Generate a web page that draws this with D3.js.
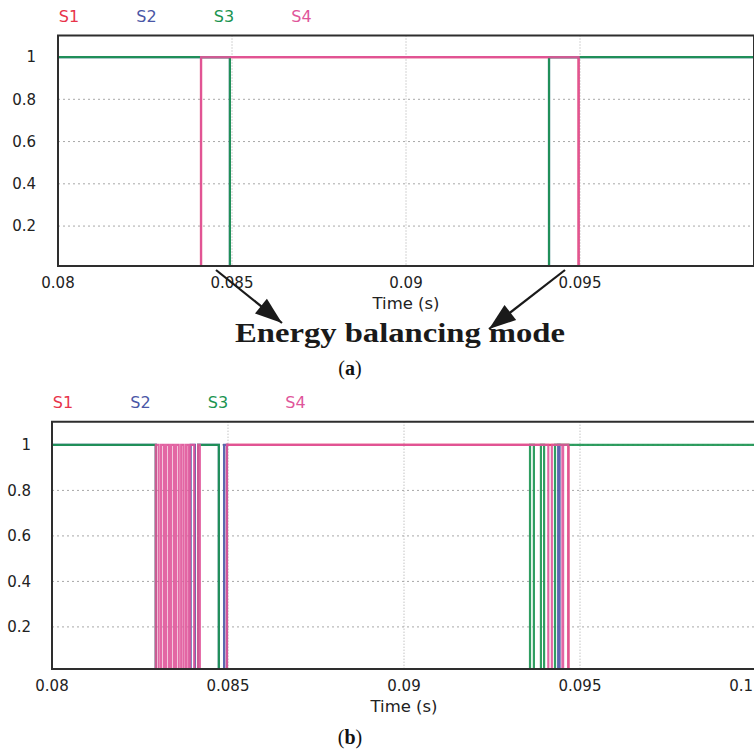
<!DOCTYPE html>
<html><head><meta charset="utf-8">
<script src="https://cdn.jsdelivr.net/npm/d3@7"></script>
<style>body{margin:0;background:#fff}svg{display:block}</style>
</head><body>
<script>
// ---------------- data ----------------
const seriesNames = ["S1", "S2", "S3", "S4"];
const seriesColors = ["#e8344a", "#4a56a6", "#1a9450", "#e0559a"];
const xTicks = [0.08, 0.085, 0.09, 0.095, 0.1];
const xTickLabelsA = ["0.08", "0.085", "0.09", "0.095", ""];
const xTickLabelsB = ["0.08", "0.085", "0.09", "0.095", "0.1"];
const yTicks = [0.2, 0.4, 0.6, 0.8, 1];
const yTickLabels = ["0.2", "0.4", "0.6", "0.8", "1"];
const xGrid = [0.085, 0.09, 0.095];

// panel (a): [time (s), switch state]
const a_S1 = [[0.08, 0], [0.08411, 1], [0.09496, 0], [0.1, 0]];
const a_S2 = [[0.08, 1], [0.08494, 0], [0.09411, 1], [0.1, 1]];
const a_S3 = [[0.08, 1], [0.08494, 0], [0.09411, 1], [0.1, 1]];
const a_S4 = [[0.08, 0], [0.08411, 1], [0.09496, 0], [0.1, 0]];

// panel (b)
const b_S1 = [[0.08, 0], [0.08497, 1], [0.09467, 0], [0.1, 0]];
const b_S2 = [[0.08, 1], [0.08295, 0], [0.08394, 1], [0.08406, 0], [0.08415, 1], [0.08474, 0],
              [0.08489, 1], [0.08497, 0], [0.09438, 1], [0.09442, 0], [0.1, 0]];
const b_S3 = [[0.08, 1], [0.08295, 0], [0.08415, 1], [0.08474, 0], [0.09358, 1], [0.09369, 0],
              [0.09389, 1], [0.09398, 0], [0.09429, 1], [0.1, 1]];
const b_S4 = [[0.08, 0], [0.08295, 1], [0.08303, 0], [0.08310, 1], [0.08318, 0], [0.08324, 1],
              [0.08332, 0], [0.08338, 1], [0.08346, 0], [0.08352, 1], [0.08360, 0], [0.08367, 1],
              [0.08374, 0], [0.08381, 1], [0.08388, 0], [0.08392, 1], [0.08404, 0], [0.08415, 1],
              [0.08420, 0], [0.08497, 1], [0.09410, 0], [0.09420, 1], [0.09450, 0], [0.09452, 1],
              [0.09467, 0], [0.1, 0]];

// annotation arrows (panel a): start time on the axis
const arrowTimes = [0.08454, 0.09457];

// ---------------- layout ----------------
const W = 754, H = 752;
const svg = d3.select("body").append("svg").attr("width", W).attr("height", H);
const defs = svg.append("defs");

const panels = [
  { id: "a", left: 58, right: 754, top: 35.5, bottom: 266, yMin: 0.011, yMax: 1.102,
    series: [a_S1, a_S2, a_S3, a_S4], xLabels: xTickLabelsA, caption: "a", capY: 368, yLabelOff: 22 },
  { id: "b", left: 52, right: 756, top: 421.7, bottom: 669, yMin: 0.015, yMax: 1.102,
    series: [b_S1, b_S2, b_S3, b_S4], xLabels: xTickLabelsB, caption: "b", capY: 737, yLabelOff: 21 }
];

const sans = "'DejaVu Sans', Arial, sans-serif";
const serif = "'Liberation Serif', 'Times New Roman', serif";

panels.forEach(p => {
  const x = d3.scaleLinear().domain([0.08, 0.1]).range([p.left, p.right]);
  const y = d3.scaleLinear().domain([p.yMin, p.yMax]).range([p.bottom, p.top]);
  p.x = x; p.y = y;
  const g = svg.append("g");

  defs.append("clipPath").attr("id", "clip-" + p.id)
    .append("rect").attr("x", p.left).attr("y", p.top)
    .attr("width", p.right - p.left).attr("height", p.bottom - p.top);

  // grid
  g.selectAll(".hg").data(yTicks).join("line")
    .attr("x1", p.left).attr("x2", p.right)
    .attr("y1", d => y(d)).attr("y2", d => y(d))
    .attr("stroke", "#a8a8a8").attr("stroke-width", 1).attr("stroke-dasharray", "2,3");
  g.selectAll(".vg").data(xGrid).join("line")
    .attr("x1", d => x(d)).attr("x2", d => x(d))
    .attr("y1", p.top).attr("y2", p.bottom)
    .attr("stroke", "#a8a8a8").attr("stroke-width", 1).attr("stroke-dasharray", "1,2");

  // signals
  const line = d3.line().x(d => x(d[0])).y(d => y(d[1])).curve(d3.curveStepAfter);
  const sg = g.append("g").attr("clip-path", `url(#clip-${p.id})`);
  p.series.forEach((s, i) => {
    sg.append("path").datum(s).attr("d", line)
      .attr("fill", "none").attr("stroke", seriesColors[i])
      .attr("stroke-width", 2.2).attr("stroke-opacity", 0.9);
  });

  // frame
  g.append("path")
    .attr("d", `M${x(0.1)},${p.top}H${p.left}V${p.bottom}H${x(0.1)}` + (x(0.1) <= W ? `V${p.top}` : ""))
    .attr("fill", "none").attr("stroke", "#2e2e2e").attr("stroke-width", 2);

  // y tick labels
  g.selectAll(".yl").data(yTicks).join("text")
    .attr("x", p.left - p.yLabelOff).attr("y", d => y(d)).attr("dy", "0.36em")
    .attr("text-anchor", "end").attr("font-family", sans).attr("font-size", 15)
    .attr("fill", "#222").text((d, i) => yTickLabels[i]);

  // x tick labels (keep the last one inside the page)
  g.selectAll(".xl").data(xTicks).join("text")
    .attr("x", d => Math.min(x(d), W - 1))
    .attr("y", p.bottom + 17).attr("dy", "0.36em")
    .attr("text-anchor", d => x(d) > W - 12 ? "end" : "middle")
    .attr("font-family", sans).attr("font-size", 15)
    .attr("fill", "#222").text((d, i) => p.xLabels[i]);

  // axis title
  g.append("text").attr("x", x(0.09)).attr("y", p.bottom + 38).attr("dy", "0.36em")
    .attr("text-anchor", "middle").attr("font-family", sans).attr("font-size", 15)
    .attr("textLength", 67).attr("lengthAdjust", "spacingAndGlyphs")
    .attr("fill", "#222").text("Time (s)");

  // legend
  g.selectAll(".lg").data(seriesNames).join("text")
    .attr("x", (d, i) => p.left + 11 + i * 77.5).attr("y", p.top - 19.5).attr("dy", "0.36em")
    .attr("text-anchor", "middle").attr("font-family", sans).attr("font-size", 16)
    .attr("fill", (d, i) => seriesColors[i]).text(d => d);

  // caption
  const cap = svg.append("text").attr("x", 350).attr("y", p.capY).attr("dy", "0.33em")
    .attr("text-anchor", "middle").attr("font-family", serif).attr("font-size", 20).attr("fill", "#111");
  cap.append("tspan").text("(");
  cap.append("tspan").attr("font-weight", "bold").text(p.caption);
  cap.append("tspan").text(")");
});

// annotation in panel (a)
const pa = panels[0];
svg.append("text").attr("x", 400).attr("y", 342)
  .attr("text-anchor", "middle").attr("font-family", serif).attr("font-weight", "bold")
  .attr("font-size", 27).attr("textLength", 330).attr("lengthAdjust", "spacingAndGlyphs")
  .attr("fill", "#1a1a1a").text("Energy balancing mode");

defs.append("marker").attr("id", "ah").attr("viewBox", "-30 -15 40 30")
  .attr("refX", 0).attr("refY", 0).attr("markerWidth", 40).attr("markerHeight", 30)
  .attr("markerUnits", "userSpaceOnUse").attr("orient", "auto")
  .attr("overflow", "visible")
  .append("path").attr("d", "M-27,-9.5 L0,0 L-27,9.5 Z").attr("fill", "#1a1a1a");

const arrowEnds = [[282, 323], [489, 329]];
arrowTimes.forEach((t, i) => {
  svg.append("line")
    .attr("x1", pa.x(t)).attr("y1", pa.bottom + 4)
    .attr("x2", arrowEnds[i][0]).attr("y2", arrowEnds[i][1])
    .attr("stroke", "#1a1a1a").attr("stroke-width", 2.2)
    .attr("marker-end", "url(#ah)");
});
</script>
</body></html>
